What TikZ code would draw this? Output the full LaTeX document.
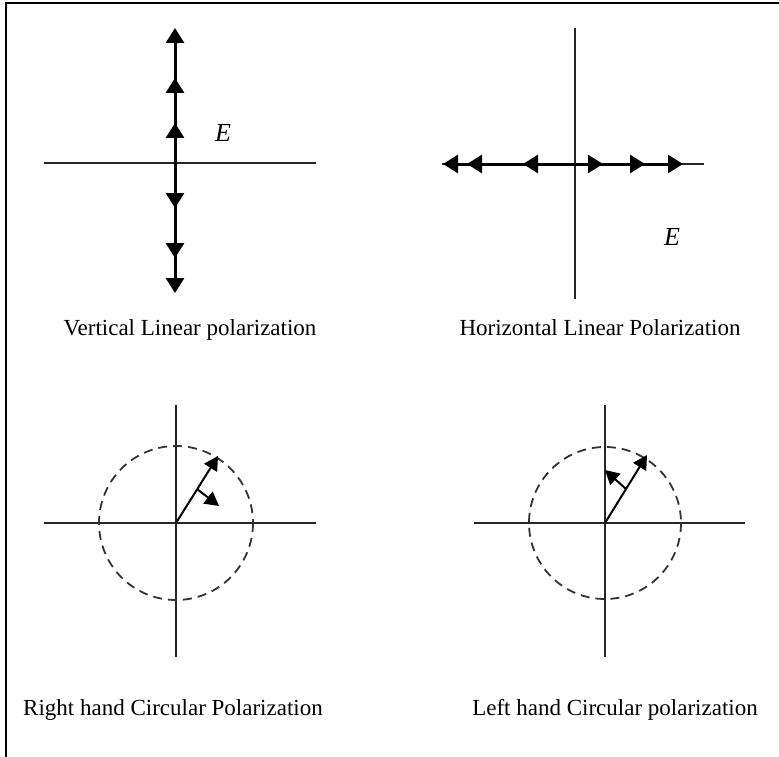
\documentclass[tikz,border=0pt]{standalone}
\usepackage{fontspec}
\setmainfont{Liberation Serif}
\usetikzlibrary{arrows.meta}
\begin{document}
\begin{tikzpicture}[x=1pt,y=-1pt,
 axis/.style={line width=1.9pt, black!85},
 field/.style={line width=3pt, -{Triangle[length=15pt,width=18pt]}},
 rot/.style={line width=2pt, -{Triangle[length=14pt,width=15pt]}},
 dcircle/.style={line width=1.8pt, dash pattern=on 9pt off 6pt, black!80},
 lbl/.style={anchor=base, inner sep=0pt, font=\fontsize{23}{28}\selectfont},
 elbl/.style={inner sep=0pt, font=\fontsize{26}{30}\selectfont\itshape}]
\useasboundingbox (0,0) rectangle (779,757);
\draw[line width=2pt] (6,757) -- (6,3.5) -- (779,3.5);

% ---------- Panel 1: vertical linear ----------
\coordinate (o1) at (175,163);
\coordinate (h1l) at (44,163);
\coordinate (h1r) at (316,163);
\coordinate (u1) at (175,28);
\coordinate (u2) at (175,78);
\coordinate (u3) at (175,123);
\coordinate (d1) at (175,208);
\coordinate (d2) at (175,258);
\coordinate (d3) at (175,293);
\draw[axis] (h1l) -- (h1r);
\foreach \t in {u1,u2,u3,d1,d2,d3} \draw[field] (o1) -- (\t);
\node[elbl] (e1) at (223,133) {E};
\node[lbl] (t1) at (190,335) {Vertical Linear polarization};

% ---------- Panel 2: horizontal linear ----------
\coordinate (o2) at (575,164);
\coordinate (v2t) at (575,28);
\coordinate (v2b) at (575,299);
\coordinate (h2l) at (442,164);
\coordinate (h2r) at (704,164);
\coordinate (l1) at (443,164);
\coordinate (l2) at (467,164);
\coordinate (l3) at (523,164);
\coordinate (r1) at (603,164);
\coordinate (r2) at (645,164);
\coordinate (r3) at (683,164);
\draw[axis] (v2t) -- (v2b);
\draw[axis] (h2l) -- (h2r);
\foreach \t in {l1,l2,l3,r1,r2,r3} \draw[field] (o2) -- (\t);
\node[elbl] (e2) at (672,237) {E};
\node[lbl] (t2) at (600,335) {Horizontal Linear Polarization};

% ---------- Panel 3: right hand circular ----------
\coordinate (o3) at (176,523);
\draw[axis] (44,523) -- (316,523);
\draw[axis] (176,405) -- (176,657);
\draw[dcircle] (o3) circle[radius=77];
\coordinate (p3) at (218,456);
\coordinate (m3) at (197,489);
\coordinate (q3) at (219,506);
\draw[rot] (o3) -- (p3);
\draw[rot] (m3) -- (q3);
\node[lbl] (t3) at (173,715) {Right hand Circular Polarization};

% ---------- Panel 4: left hand circular ----------
\coordinate (o4) at (605,523);
\draw[axis] (474,523) -- (745,523);
\draw[axis] (605,405) -- (605,657);
\draw[dcircle] (o4) circle[radius=76];
\coordinate (p4) at (647,455);
\coordinate (m4) at (626,489);
\coordinate (q4) at (605,470);
\draw[rot] (o4) -- (p4);
\draw[rot] (m4) -- (q4);
\node[lbl] (t4) at (615,715) {Left hand Circular polarization};
\end{tikzpicture}
\end{document}
